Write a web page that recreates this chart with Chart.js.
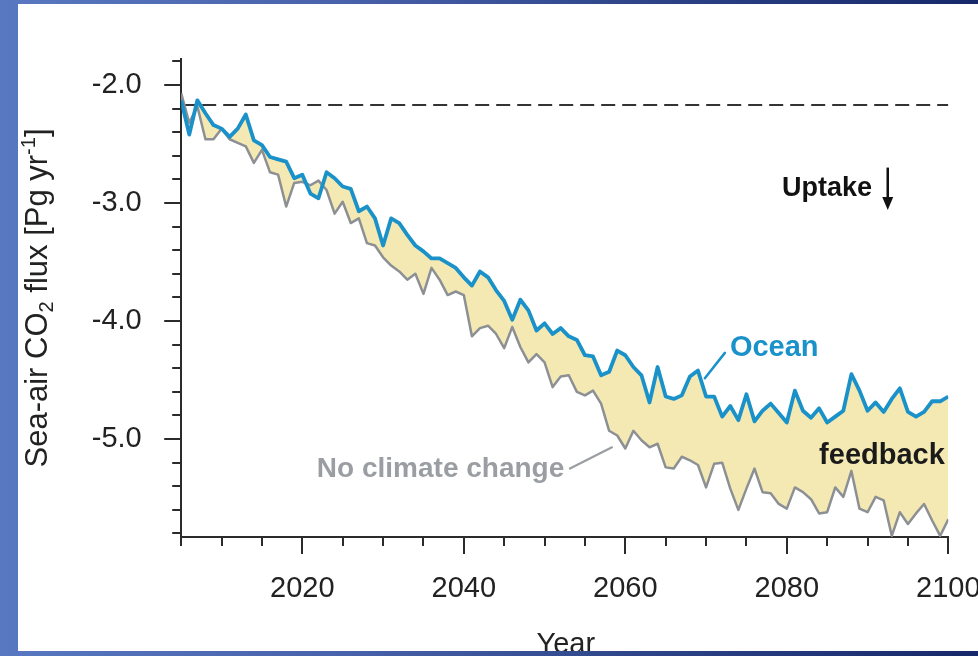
<!DOCTYPE html>
<html>
<head>
<meta charset="utf-8">
<title>Sea-air CO2 flux</title>
<script src="https://cdn.jsdelivr.net/npm/chart.js@4.4.1/dist/chart.umd.min.js"></script>
<style>
  html, body { margin: 0; padding: 0; width: 978px; height: 656px; overflow: hidden; }
  body {
    position: relative;
    background: linear-gradient(90deg, #5878c1 0%, #4862ab 35%, #2e4589 65%, #16286a 100%);
  }
  #panel { position: absolute; left: 18px; top: 4px; width: 960px; height: 647px; background: #fff; overflow: hidden; }
  #wrap { position: absolute; left: -18px; top: -4px; width: 1010px; height: 656px; }
  canvas { display: block; }
</style>
</head>
<body>
<div id="panel"><div id="wrap"><canvas id="chart" width="1010" height="656"></canvas></div></div>
<script>
// Annual sea-air CO2 flux (Pg C / yr), 2005-2100
const startYear = 2005;

// with climate change feedback ("Ocean")
const oceanFlux = [
  -2.13, -2.42, -2.13, -2.24, -2.34, -2.37, -2.44, -2.37, -2.25, -2.47,
  -2.51, -2.61, -2.63, -2.65, -2.79, -2.76, -2.92, -2.96, -2.74, -2.79,
  -2.86, -2.88, -3.07, -3.03, -3.13, -3.36, -3.13, -3.17, -3.27, -3.36,
  -3.41, -3.47, -3.47, -3.51, -3.55, -3.63, -3.70, -3.58, -3.63, -3.74,
  -3.83, -3.99, -3.82, -3.91, -4.08, -4.02, -4.11, -4.06, -4.13, -4.16,
  -4.29, -4.30, -4.46, -4.43, -4.25, -4.29, -4.39, -4.46, -4.69, -4.39,
  -4.64, -4.66, -4.63, -4.47, -4.42, -4.64, -4.64, -4.81, -4.72, -4.84,
  -4.62, -4.85, -4.76, -4.70, -4.78, -4.86, -4.59, -4.76, -4.82, -4.74,
  -4.86, -4.81, -4.76, -4.45, -4.59, -4.76, -4.69, -4.77, -4.66, -4.57,
  -4.77, -4.81, -4.77, -4.68, -4.68, -4.64
];

// without climate change
const noClimateFlux = [
  -2.07, -2.32, -2.18, -2.46, -2.46, -2.37, -2.46, -2.49, -2.52, -2.66,
  -2.55, -2.74, -2.76, -3.03, -2.83, -2.82, -2.85, -2.81, -2.89, -3.09,
  -2.99, -3.17, -3.13, -3.34, -3.36, -3.46, -3.53, -3.58, -3.65, -3.60,
  -3.77, -3.55, -3.65, -3.78, -3.75, -3.78, -4.13, -4.06, -4.04, -4.11,
  -4.23, -4.05, -4.22, -4.35, -4.28, -4.35, -4.56, -4.47, -4.46, -4.60,
  -4.63, -4.59, -4.70, -4.93, -4.97, -5.08, -4.93, -5.01, -5.07, -5.04,
  -5.24, -5.25, -5.15, -5.18, -5.22, -5.41, -5.21, -5.20, -5.42, -5.60,
  -5.42, -5.25, -5.45, -5.46, -5.55, -5.59, -5.41, -5.45, -5.51, -5.63,
  -5.62, -5.41, -5.49, -5.27, -5.59, -5.62, -5.49, -5.52, -5.82, -5.62,
  -5.72, -5.63, -5.55, -5.69, -5.82, -5.68
];

// initial uptake level (dashed reference line)
const baselineFlux = [-2.17, -2.17];

const years = oceanFlux.map((_, i) => startYear + i);
const baselineYears = [2005, 2100];

const xTickLabels = ['2020', '2040', '2060', '2080', '2100'];
const yTickLabels = ['-2.0', '-3.0', '-4.0', '-5.0'];

const FONT = '"Liberation Sans", Arial, Helvetica, sans-serif';
const BLUE = '#1a92c9';
const GREY = '#8c9094';
const FILL = '#f4e9b3';
const AXIS = '#2b2b2b';

const toPoints = (xs, ys) => ys.map((v, i) => ({ x: xs[i], y: v }));

function labelFor(list, v) {
  const hit = list.find(t => Math.abs(parseFloat(t) - v) < 1e-6);
  return hit || '';
}

// text labels placed in data space (year, flux)
const notes = [
  { text: 'Uptake', year: 2079.4, flux: -2.94, color: '#111111', size: 27 },
  { text: 'Ocean', year: 2072.95, flux: -4.30, color: BLUE, size: 29 },
  { text: 'No climate change', year: 2021.8, flux: -5.32, color: '#9a9ea3', size: 28 },
  { text: 'feedback', year: 2084.0, flux: -5.215, color: '#1a1a1a', size: 29 }
];
const leaders = [
  { from: [2072.33, -4.27], to: [2069.85, -4.485], color: BLUE, width: 2.5 },
  { from: [2053.15, -5.25], to: [2058.35, -5.07], color: '#9a9ea3', width: 2.2 }
];
const uptakeArrow = { year: 2092.5, top: -2.70, tip: -3.06 };

const decorations = {
  id: 'decorations',
  afterDatasetsDraw(chart) {
    const { ctx, chartArea, scales: { x, y } } = chart;
    const px = v => x.getPixelForValue(v);
    const py = v => y.getPixelForValue(v);
    ctx.save();

    // longer marks for labelled ticks
    ctx.strokeStyle = AXIS;
    ctx.lineWidth = 2;
    y.ticks.forEach(t => {
      if (!labelFor(yTickLabels, t.value)) return;
      const yy = Math.round(py(t.value));
      ctx.beginPath(); ctx.moveTo(chartArea.left - 8, yy); ctx.lineTo(chartArea.left - 17, yy); ctx.stroke();
    });
    x.ticks.forEach(t => {
      if (!labelFor(xTickLabels, t.value)) return;
      const xx = Math.round(px(t.value));
      ctx.beginPath(); ctx.moveTo(xx, chartArea.bottom + 8); ctx.lineTo(xx, chartArea.bottom + 17); ctx.stroke();
    });

    // leader lines
    leaders.forEach(l => {
      ctx.strokeStyle = l.color; ctx.lineWidth = l.width; ctx.lineCap = 'round';
      ctx.beginPath();
      ctx.moveTo(px(l.from[0]), py(l.from[1]));
      ctx.lineTo(px(l.to[0]), py(l.to[1]));
      ctx.stroke();
    });

    // text notes
    ctx.textAlign = 'left';
    ctx.textBaseline = 'alphabetic';
    notes.forEach(n => {
      ctx.font = `bold ${n.size}px ${FONT}`;
      ctx.fillStyle = n.color;
      ctx.fillText(n.text, px(n.year), py(n.flux));
    });

    // downward arrow next to "Uptake"
    const ax = px(uptakeArrow.year), aTop = py(uptakeArrow.top), aTip = py(uptakeArrow.tip);
    ctx.strokeStyle = '#111'; ctx.fillStyle = '#111'; ctx.lineWidth = 2.5; ctx.lineCap = 'butt';
    ctx.beginPath(); ctx.moveTo(ax, aTop); ctx.lineTo(ax, aTip - 10); ctx.stroke();
    ctx.beginPath();
    ctx.moveTo(ax - 5.5, aTip - 13); ctx.lineTo(ax + 5.5, aTip - 13); ctx.lineTo(ax, aTip);
    ctx.closePath(); ctx.fill();

    ctx.restore();
  },
  afterDraw(chart) {
    const { ctx, chartArea } = chart;
    ctx.save();
    ctx.fillStyle = '#222';

    // x-axis title
    ctx.font = `29px ${FONT}`;
    ctx.textAlign = 'center';
    ctx.textBaseline = 'alphabetic';
    ctx.fillText('Year', (chartArea.left + chartArea.right) / 2 + 1, 653);

    // y-axis title with sub/superscripts
    const big = `31px ${FONT}`, small = `20px ${FONT}`;
    const parts = [
      { t: 'Sea-air CO', f: big, dy: 0 },
      { t: '2', f: small, dy: 6 },
      { t: ' flux [Pg yr', f: big, dy: 0 },
      { t: '-1', f: small, dy: -12 },
      { t: ']', f: big, dy: 0 }
    ];
    let total = 0;
    parts.forEach(p => { ctx.font = p.f; p.w = ctx.measureText(p.t).width; total += p.w; });
    ctx.translate(47, (chartArea.top + chartArea.bottom) / 2);
    ctx.rotate(-Math.PI / 2);
    ctx.textAlign = 'left';
    let cx = -total / 2;
    parts.forEach(p => { ctx.font = p.f; ctx.fillText(p.t, cx, p.dy); cx += p.w; });
    ctx.restore();
  }
};

new Chart(document.getElementById('chart'), {
  type: 'line',
  data: {
    datasets: [
      {
        label: 'Ocean',
        data: toPoints(years, oceanFlux),
        borderColor: BLUE,
        borderWidth: 3.8,
        backgroundColor: FILL,
        fill: '+1',
        pointRadius: 0,
        tension: 0,
        borderJoinStyle: 'round'
      },
      {
        label: 'No climate change',
        data: toPoints(years, noClimateFlux),
        borderColor: GREY,
        borderWidth: 2.5,
        fill: false,
        pointRadius: 0,
        tension: 0,
        borderJoinStyle: 'round'
      },
      {
        label: 'Initial uptake',
        data: toPoints(baselineYears, baselineFlux),
        borderColor: '#333',
        borderWidth: 2,
        borderDash: [14, 7],
        fill: false,
        pointRadius: 0
      }
    ]
  },
  options: {
    responsive: false,
    animation: false,
    devicePixelRatio: 1,
    layout: { padding: { left: 0, right: 61.7, top: 59, bottom: 0 } },
    plugins: {
      legend: { display: false },
      tooltip: { enabled: false },
      filler: { drawTime: 'beforeDatasetsDraw' }
    },
    scales: {
      x: {
        type: 'linear',
        min: 2005,
        max: 2100,
        afterFit: s => { s.height = 119; },
        border: { display: true, color: AXIS, width: 2 },
        grid: { display: true, drawOnChartArea: false, drawTicks: true, tickLength: 9, color: AXIS, lineWidth: 2 },
        ticks: {
          stepSize: 5,
          maxTicksLimit: 100,
          autoSkip: false,
          includeBounds: false,
          maxRotation: 0,
          padding: 26,
          color: '#222',
          font: { family: FONT, size: 29 },
          callback: v => labelFor(xTickLabels, v)
        }
      },
      y: {
        type: 'linear',
        min: -5.83,
        max: -1.78,
        afterFit: s => { s.width = 181.2; },
        border: { display: true, color: AXIS, width: 2 },
        grid: { display: true, drawOnChartArea: false, drawTicks: true, tickLength: 9, color: AXIS, lineWidth: 2 },
        ticks: {
          stepSize: 0.2,
          maxTicksLimit: 100,
          autoSkip: false,
          includeBounds: false,
          padding: 30.5,
          color: '#222',
          font: { family: FONT, size: 29 },
          callback: v => labelFor(yTickLabels, v)
        }
      }
    }
  },
  plugins: [decorations]
});
</script>
</body>
</html>
